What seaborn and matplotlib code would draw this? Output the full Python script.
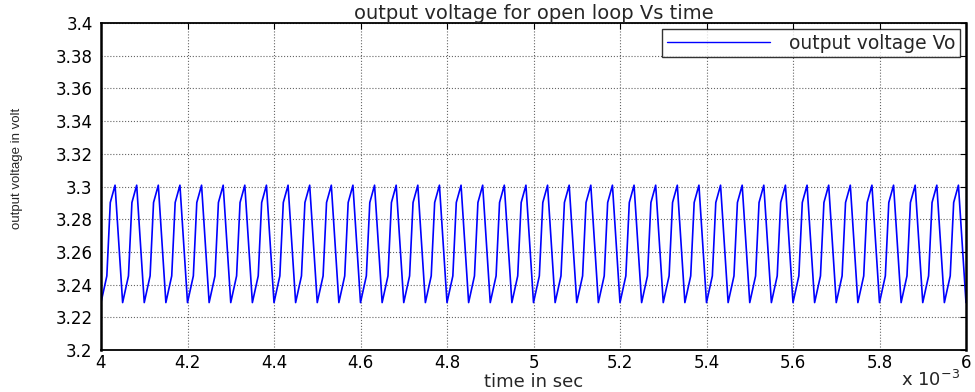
import numpy as np
import pandas as pd
import matplotlib
matplotlib.use("Agg")
import matplotlib.pyplot as plt
import seaborn as sns
from matplotlib.ticker import FuncFormatter

# ---- data ----
# one switching cycle (offsets in ms from the cycle's minimum, values in volts)
cycle_offsets_ms = [0.0, 0.0135, 0.0215, 0.0325]
cycle_values = [3.2290, 3.2453, 3.2902, 3.3008]
period_ms = 0.05
t_start_ms = 4.0
n_cycles = 40
end_value = 3.2290

title_text = "output voltage for open loop Vs time"
xlabel_text = "time in sec"
ylabel_text = "output voltage in volt"
legend_text = "output voltage Vo"
x_ticks_ms = [4.0, 4.2, 4.4, 4.6, 4.8, 5.0, 5.2, 5.4, 5.6, 5.8, 6.0]
y_ticks = [3.2, 3.22, 3.24, 3.26, 3.28, 3.3, 3.32, 3.34, 3.36, 3.38, 3.4]

t_list, v_list = [], []
for k in range(n_cycles):
    for off, val in zip(cycle_offsets_ms, cycle_values):
        t_list.append((t_start_ms + k * period_ms + off) * 1e-3)
        v_list.append(val)
t_list.append((t_start_ms + n_cycles * period_ms) * 1e-3)
v_list.append(end_value)
df = pd.DataFrame({"time": t_list, "Vo": v_list, "series": legend_text})

# ---- plotting ----
sns.set_style("white")
plt.rcParams["font.family"] = ["DejaVu Sans"]

fig = plt.figure(figsize=(9.75, 3.92), dpi=100)
ax = fig.add_axes([101 / 975, 1 - 350 / 392, (966 - 101) / 975, (350 - 23) / 392])

sns.lineplot(data=df, x="time", y="Vo", hue="series", palette=["#0000ff"],
             estimator=None, sort=False, linewidth=1.2, ax=ax)

ax.set_xlim(4.0e-3, 6.0e-3)
ax.set_ylim(3.2, 3.4)
ax.set_xticks([x * 1e-3 for x in x_ticks_ms])
ax.set_yticks(y_ticks)
ax.xaxis.set_major_formatter(FuncFormatter(lambda v, p: f"{v * 1e3:g}"))
ax.yaxis.set_major_formatter(FuncFormatter(lambda v, p: f"{v:g}"))
ax.tick_params(direction="in", length=4, width=0.8, labelsize=12,
               top=True, right=True, colors="black")
ax.tick_params(axis="x", pad=3)
ax.tick_params(axis="y", pad=6)

ax.grid(True, linestyle=":", color="#666666", linewidth=0.8)
for s in ax.spines.values():
    s.set_visible(True)
    s.set_color("black")
    s.set_linewidth(1.3)
ax.spines["left"].set_linewidth(1.8)
ax.spines["right"].set_linewidth(1.8)

ax.set_title(title_text, fontsize=14, pad=3)
ax.set_xlabel(xlabel_text, fontsize=13)
ax.xaxis.set_label_coords(0.5, -0.07)
ax.set_ylabel(ylabel_text, fontsize=9.5,
              family=["Liberation Sans Narrow", "Liberation Sans", "DejaVu Sans"])
ax.yaxis.set_label_coords(-0.09, 0.555)

fig.text(0.924, 0.004, r"x 10$^{-3}$", fontsize=13, ha="left", va="bottom")

leg = ax.legend(loc="upper right", bbox_to_anchor=(0.993, 0.982), borderaxespad=0,
                fontsize=13.5, frameon=True, fancybox=False, handlelength=5.5,
                borderpad=0.25, handletextpad=1.0)
leg.get_frame().set_edgecolor("black")
leg.get_frame().set_linewidth(1.0)
for h in leg.get_lines():
    h.set_linewidth(1.0)

fig.savefig("out.png", dpi=100)
